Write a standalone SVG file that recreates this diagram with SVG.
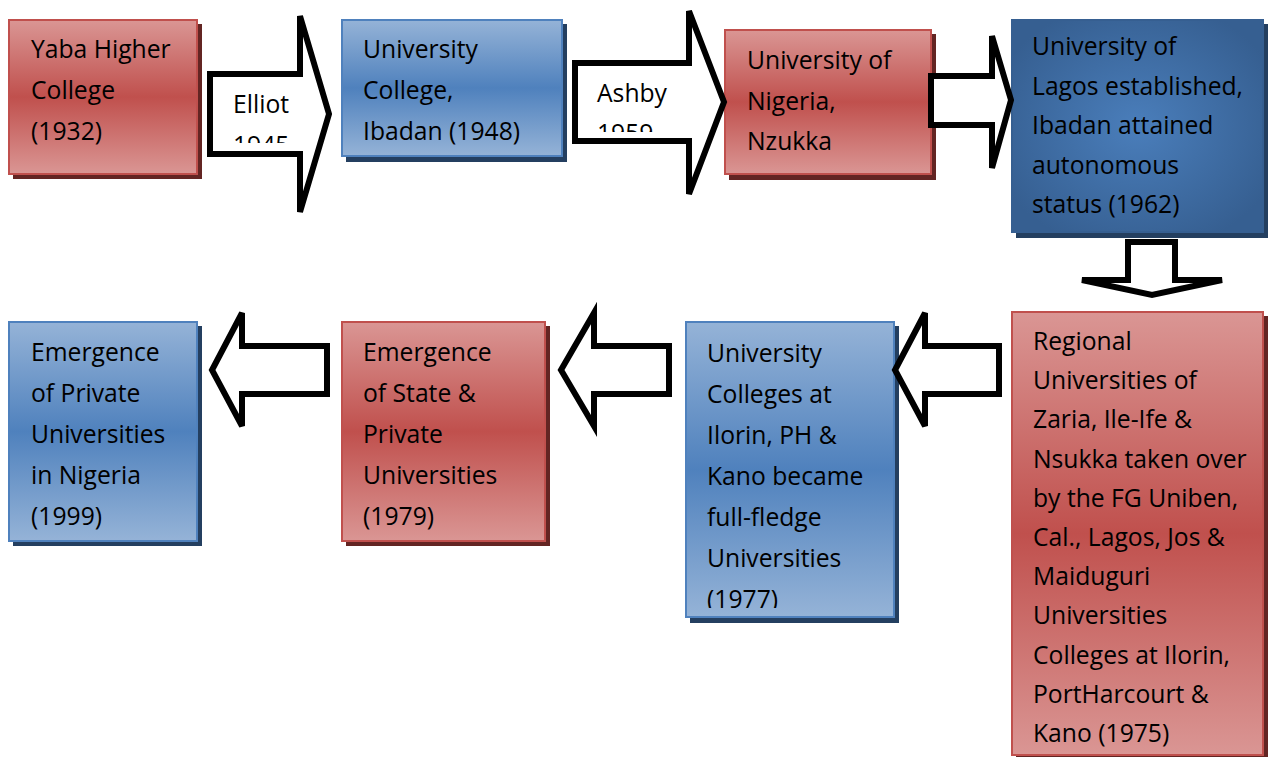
<svg xmlns="http://www.w3.org/2000/svg" width="1272" height="757" viewBox="0 0 1272 757">
<defs>
<linearGradient id="gRed" x1="0" y1="0" x2="0" y2="1">
<stop offset="0" stop-color="#da9694"/>
<stop offset="0.5" stop-color="#c0504d"/>
<stop offset="1" stop-color="#da9694"/>
</linearGradient>
<linearGradient id="gBlue" x1="0" y1="0" x2="0" y2="1">
<stop offset="0" stop-color="#95b3d7"/>
<stop offset="0.5" stop-color="#4f81bd"/>
<stop offset="1" stop-color="#95b3d7"/>
</linearGradient>
<radialGradient id="gDark" cx="0.5" cy="0.5" r="0.6">
<stop offset="0" stop-color="#4a7ebb"/>
<stop offset="1" stop-color="#365f91"/>
</radialGradient>
<clipPath id="c1"><rect x="210" y="76" width="90" height="67"/></clipPath>
<clipPath id="c2"><rect x="575" y="63" width="112" height="69"/></clipPath>
<clipPath id="c6"><rect x="686" y="323" width="207" height="285"/></clipPath>
</defs>
<style>
.t{font-family:"Open Sans","Noto Sans","Liberation Sans",sans-serif;font-size:24.7px;fill:#000}
.red{fill:url(#gRed);stroke:#c0504d;stroke-width:2}
.blue{fill:url(#gBlue);stroke:#4f81bd;stroke-width:2}
.dark{fill:url(#gDark);stroke:#365f91;stroke-width:2}
.shR{fill:#632523}
.shB{fill:#243f60}
.arr{fill:#fff;stroke:#000;stroke-width:6;stroke-linejoin:miter}
</style>

<g id="n1">
<rect class="shR" x="13" y="24" width="189" height="155"/>
<rect class="red" x="9" y="20" width="188" height="154"/>
<text class="t" x="31" y="58">Yaba Higher</text>
<text class="t" x="31" y="99">College</text>
<text class="t" x="31" y="140">(1932)</text>
</g>

<g id="n2">
<rect class="shB" x="346" y="24" width="221" height="138"/>
<rect class="blue" x="342" y="20" width="220" height="136"/>
<text class="t" x="363" y="58">University</text>
<text class="t" x="363" y="99">College,</text>
<text class="t" x="363" y="140">Ibadan (1948)</text>
</g>

<g id="n3">
<rect class="shR" x="729" y="34" width="207" height="146"/>
<rect class="red" x="725" y="30" width="206" height="144"/>
<text class="t" x="747" y="69">University of</text>
<text class="t" x="747" y="110">Nigeria,</text>
<text class="t" x="747" y="150">Nzukka</text>
</g>

<g id="n4">
<rect class="shB" x="1016" y="24" width="252" height="214"/>
<rect class="dark" x="1012" y="20" width="251" height="212"/>
<text class="t" x="1032" y="55">University of</text>
<text class="t" x="1032" y="94.5">Lagos established,</text>
<text class="t" x="1032" y="134">Ibadan attained</text>
<text class="t" x="1032" y="173.5">autonomous</text>
<text class="t" x="1032" y="213">status (1962)</text>
</g>

<g id="n5">
<rect class="shR" x="1016" y="316" width="252" height="444"/>
<rect class="red" x="1012" y="312" width="251" height="443"/>
<text class="t" x="1033" y="350">Regional</text>
<text class="t" x="1033" y="389.2">Universities of</text>
<text class="t" x="1033" y="428.4">Zaria, Ile-Ife &amp;</text>
<text class="t" x="1033" y="467.6">Nsukka taken over</text>
<text class="t" x="1033" y="506.8">by the FG Uniben,</text>
<text class="t" x="1033" y="546">Cal., Lagos, Jos &amp;</text>
<text class="t" x="1033" y="585.2">Maiduguri</text>
<text class="t" x="1033" y="624.4">Universities</text>
<text class="t" x="1033" y="663.6">Colleges at Ilorin,</text>
<text class="t" x="1033" y="702.8">PortHarcourt &amp;</text>
<text class="t" x="1033" y="742">Kano (1975)</text>
</g>

<g id="n6">
<rect class="shB" x="690" y="326" width="209" height="297"/>
<rect class="blue" x="686" y="322" width="208" height="295"/>
<g clip-path="url(#c6)">
<text class="t" x="707" y="362">University</text>
<text class="t" x="707" y="403">Colleges at</text>
<text class="t" x="707" y="444">Ilorin, PH &amp;</text>
<text class="t" x="707" y="485">Kano became</text>
<text class="t" x="707" y="526">full-fledge</text>
<text class="t" x="707" y="567">Universities</text>
<text class="t" x="707" y="608">(1977)</text>
</g>
</g>

<g id="n7">
<rect class="shR" x="346" y="326" width="204" height="220"/>
<rect class="red" x="342" y="322" width="203" height="219"/>
<text class="t" x="363" y="361">Emergence</text>
<text class="t" x="363" y="402">of State &amp;</text>
<text class="t" x="363" y="443">Private</text>
<text class="t" x="363" y="484">Universities</text>
<text class="t" x="363" y="525">(1979)</text>
</g>

<g id="n8">
<rect class="shB" x="13" y="326" width="189" height="220"/>
<rect class="blue" x="9" y="322" width="188" height="219"/>
<text class="t" x="31" y="361">Emergence</text>
<text class="t" x="31" y="402">of Private</text>
<text class="t" x="31" y="443">Universities</text>
<text class="t" x="31" y="484">in Nigeria</text>
<text class="t" x="31" y="525">(1999)</text>
</g>

<g id="connectors">
<g id="arrow-elliot">
<path class="arr" d="M210,74 H300 V16 L329,114 L300,212 V154 H210 Z"/>
<g clip-path="url(#c1)">
<text class="t" x="233" y="113">Elliot</text>
<text class="t" x="233" y="154">1945</text>
</g>
</g>
<g id="arrow-ashby">
<path class="arr" d="M575,63 H689 V11 L724,102 L689,194 V141 H575 Z"/>
<g clip-path="url(#c2)">
<text class="t" x="597" y="102">Ashby</text>
<text class="t" x="597" y="142">1959</text>
</g>
</g>
<path id="arrow-3" class="arr" d="M931,76 H992 V36 L1011,100 L992,168 V125 H931 Z"/>
<path id="arrow-down" class="arr" d="M1128,242 H1175 V280 H1222 L1152,295 L1082,280 H1128 Z"/>
<path id="arrow-l1" class="arr" d="M999,346 H925 V313 L895,370 L925,426 V394 H999 Z"/>
<path id="arrow-l2" class="arr" d="M669,346 H594 V313 L561,370 L594,426 V394 H669 Z"/>
<path id="arrow-l3" class="arr" d="M327,346 H242 V313 L212,370 L242,426 V394 H327 Z"/>
</g>
</svg>
